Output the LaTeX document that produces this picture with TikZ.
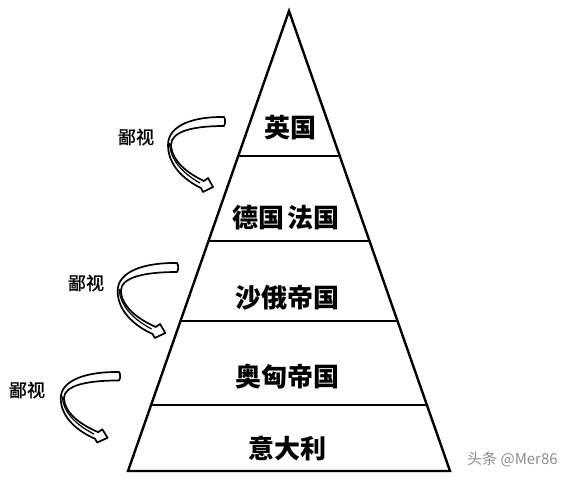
\documentclass[tikz,border=0pt]{standalone}
\usepackage{fontspec}
\usetikzlibrary{calc}
\IfFontExistsTF{Noto Sans CJK SC Black}
  {\newfontfamily\cjkheavy{Noto Sans CJK SC Black}}
  {\newfontfamily\cjkheavy{Noto Sans CJK SC}[FakeBold=3]}
\newfontfamily\cjk{Noto Sans CJK SC}
\newfontfamily\cjkmed{Noto Sans CJK SC}[FakeBold=1.2]
\tikzset{
  tiertext/.style={inner sep=0pt, font=\cjkheavy\fontsize{26}{26}\selectfont, text=black},
  sneerlabel/.style={inner sep=0pt, font=\cjkmed\fontsize{18}{18}\selectfont, text=black},
  tierline/.style={line width=2.4pt, black},
  ribbon/.style={draw=black, fill=white, line width=1.7pt, line join=round},
  watermark/.style={inner sep=0pt, font=\cjk\fontsize{15}{15}\selectfont, text=black!45},
  sneerarrow/.pic={
    \path[ribbon]
      (0,0) .. controls (-30,-0.5) and (-56,8) .. (-56,28)
      .. controls (-56,48) and (-40,63) .. (-23,71)
      -- (-21,75) -- (-11,70) -- (-16,61) -- (-20,64)
      .. controls (-37,56) and (-52,44) .. (-53,28)
      .. controls (-53,14) and (-30,9) .. (0,9)
      .. controls (1.5,7) and (1.5,2) .. cycle;
    \draw[black, line width=1.2pt] (-54.5,26) .. controls (-54,42) and (-42,56) .. (-24,66);
  }
}
\begin{document}
\begin{tikzpicture}[x=1pt, y=-1pt]
\useasboundingbox (0,0) rectangle (578,481);
\fill[white] (0,0) rectangle (578,481);
% pyramid
\coordinate (A) at (289,11);
\coordinate (BL) at (128,471);
\coordinate (BR) at (450,471);
\draw[tierline, line join=miter] (BL) -- (A) -- (BR) -- cycle;
\foreach \t/\n in {0.3152/a, 0.5/b, 0.6739/c, 0.8565/d}{
  \coordinate (L\n) at ($(A)!\t!(BL)$);
  \coordinate (R\n) at ($(A)!\t!(BR)$);
  \draw[tierline] (L\n) -- (R\n);
}
% tier labels
\node[tiertext] (t1) at (290,128) {英国};
\node[tiertext] (t2) at (286,218) {德国\hspace{3pt}法国};
\node[tiertext] (t3) at (287,298) {沙俄帝国};
\node[tiertext] (t4) at (287,377) {奥匈帝国};
\node[tiertext] (t5) at (287,448) {意大利};
% sneer arrows
\pic at (224,117) {sneerarrow};
\pic[xscale=1.06] at (177,263) {sneerarrow};
\pic[xscale=1.04, yscale=0.94] at (119,372) {sneerarrow};
\node[sneerlabel] (s1) at (136,137) {鄙视};
\node[sneerlabel] (s2) at (86,283) {鄙视};
\node[sneerlabel] (s3) at (27,390) {鄙视};
% watermark
\node[watermark, anchor=west] (wm) at (467,459) {头条 @Mer86};
\end{tikzpicture}
\end{document}
